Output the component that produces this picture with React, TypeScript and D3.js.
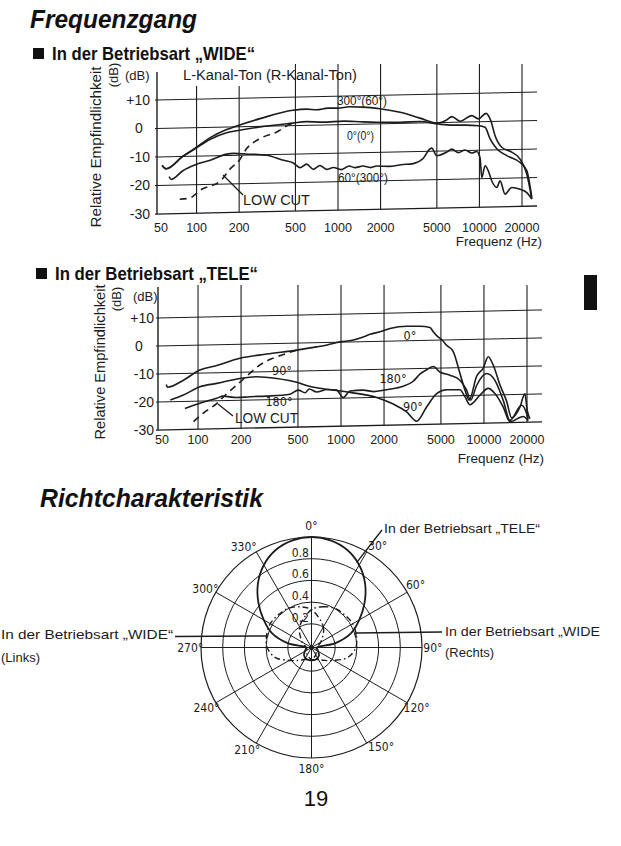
import React from 'react';
import * as d3 from 'd3';

type Pt = [number, number];

// ---------- axis ticks ----------
const FREQ_TICKS = [50, 100, 200, 500, 1000, 2000, 5000, 10000, 20000];
const FREQ_TICK_LABELS = ['50', '100', '200', '500', '1000', '2000', '5000', '10000', '20000'];
const DB_TICKS = [10, 0, -10, -20, -30];
const DB_TICK_LABELS = ['+10', '0', '-10', '-20', '-30'];

// ---------- WIDE mode (frequency Hz, relative dB) ----------
const wide300: Pt[] = [[57,-13],[61,-14.2],[80,-9.9],[97,-7.3],[125,-3.6],[163,-0.9],[192,0.3],[281,2.7],[479,5.4],[600,5.7],[707,5.4],[850,5.9],[1000,5.8],[1200,6.2],[1500,6.0],[1980,5.3],[2750,3.9],[3800,1.7],[5120,-0.2],[5880,0.9],[6380,2.0],[7300,0.3],[8830,2.2],[9830,1.0],[11140,2.9],[12030,0.3],[12900,-5.0],[14390,-9.1],[16470,-10.6],[19380,-13.4],[21620,-18.7],[23460,-27.5]];
const wide0: Pt[] = [[57,-13],[61,-14.2],[80,-10.0],[97,-7.5],[125,-4.2],[163,-2.0],[192,-1.4],[281,-0.2],[479,0.9],[600,1.3],[783,1.0],[1100,1.2],[1500,0.8],[1880,0.6],[2750,0.4],[3800,0.5],[5120,-0.5],[6380,-1.0],[8000,-1.1],[9830,-1.4],[10960,-2.0],[11890,-6.1],[13260,-9.6],[15610,-12.1],[19380,-14.6],[21620,-17.5],[23460,-27]];
const wide60: Pt[] = [[64,-17.0],[66,-18.0],[80,-15.0],[97,-13.1],[125,-11.5],[163,-9.5],[182,-9.3],[239,-9.7],[313,-10.2],[411,-12.1],[483,-13.1],[540,-14.8],[600,-13.6],[670,-15.5],[745,-14.2],[830,-15.6],[930,-15.0],[1050,-15.8],[1200,-14.6],[1320,-15.2],[1500,-14.7],[1700,-15.3],[1880,-14.8],[2300,-15.0],[2800,-14.5],[3400,-14.2],[4000,-12.5],[4480,-9.1],[4600,-8.9],[4990,-11.6],[5880,-10.4],[6380,-9.4],[7100,-10.7],[7900,-9.8],[8830,-10.9],[9570,-10.4],[10100,-12.6],[10390,-19.6],[10960,-15.5],[11570,-17.4],[12230,-20.9],[13260,-23.2],[14000,-20.9],[15180,-25.6],[16930,-23.3],[19380,-24],[21620,-25.2],[23460,-27.5]];
const wideLowCut: Pt[] = [[76,-25],[90,-24.6],[106,-22],[150,-18.5],[172,-14.8],[200,-11.8],[226,-7.7],[281,-4.3],[369,-2.1],[458,0.5],[500,0.9]];

// ---------- TELE mode ----------
const tele0: Pt[] = [[60,-13.8],[61,-14.8],[79,-12.4],[103,-8.9],[135,-7.4],[196,-5.0],[302,-3.7],[490,-2.5],[676,-1.5],[800,-0.9],[983,0.1],[1200,0.6],[1431,1.7],[1600,2.6],[1872,3.4],[2200,4.5],[2878,5.2],[3564,5.1],[4188,4.6],[4418,3.0],[4666,1.6],[5100,0],[5479,-1.9],[6094,-4.2],[6790,-12],[7358,-18],[7888,-21.6],[8884,-13.2],[9882,-10.3],[10710,-6.3],[11600,-9.3],[12930,-16.4],[14400,-22.3],[15610,-28.3],[17840,-24.6],[19330,-19.8],[20070,-25.8],[20960,-28.7]];
const tele90: Pt[] = [[64,-19.4],[79,-17.7],[103,-14.9],[135,-13.8],[196,-12.2],[257,-11.7],[355,-12.5],[490,-14.0],[600,-15.5],[752,-16.5],[1155,-18.0],[1775,-20.0],[2320,-22.5],[2878,-25.4],[3381,-28.8],[3971,-23.8],[4666,-19.1],[5479,-17.8],[6790,-17.9],[7358,-20.4],[7974,-23.3],[9370,-20.0],[10710,-17.6],[11930,-19.5],[13640,-24.4],[15190,-29.7],[18810,-27.9],[20390,-29.5]];
const tele180: Pt[] = [[81,-22.5],[103,-20.8],[135,-19.1],[150,-18.4],[186,-19.0],[231,-18.8],[302,-18.7],[440,-18.2],[502,-16.8],[560,-17.8],[600,-16.5],[676,-17.6],[800,-16.8],[932,-17.1],[1037,-19.8],[1155,-17.5],[1431,-17.3],[1700,-17.9],[1974,-17.5],[2450,-16.8],[2724,-16.2],[3201,-14.5],[3564,-12.0],[3971,-10.5],[4418,-9.4],[4920,-11.4],[5778,-12.6],[6790,-14.5],[7561,-18.1],[8065,-21.7],[8884,-16.5],[10440,-12.3],[11930,-14.8],[13640,-22],[15190,-29.2],[18330,-23.9],[19870,-26.9],[20390,-29]];
const teleLowCut: Pt[] = [[93,-27.3],[109,-24.3],[135,-21],[159,-17.5],[186,-14.6],[231,-10.4],[271,-7.5],[336,-5.2],[417,-3.6],[490,-2.5]];

// ---------- Polar (angle deg, relative level) ----------
const POLAR_SPOKES = [0, 30, 60, 90, 120, 150, 180, 210, 240, 270, 300, 330];
const POLAR_LABEL_NUDGE = [0, 3, -1, 0, 0, -5, 0, 2, 0, 0, -1, -4];
const POLAR_RINGS = [0.2, 0.4, 0.6, 0.8, 1.0];
const POLAR_RING_LABELS = ['0.2', '0.4', '0.6', '0.8'];
const teleAngles = [0,10,20,30,40,50,60,70,80,90,110,135,160,180,200,225,250,270,280,290,300,310,320,330,340,350];
const teleLevels = [1.0,0.985,0.94,0.86,0.75,0.62,0.49,0.37,0.2,0.03,0.04,0.08,0.1,0.1,0.1,0.08,0.04,0.03,0.2,0.37,0.49,0.62,0.75,0.86,0.94,0.985];
const wideLAngles = [0,30,60,90,120,150,180,210,225,240,255,270,285,300,315,330,345];
const wideLLevels = [0.33,0.2,0.08,0.03,0.03,0.06,0.09,0.11,0.15,0.22,0.33,0.39,0.41,0.42,0.41,0.4,0.37];
const wideRAngles = [0,15,30,45,60,75,90,105,120,135,150,180,210,240,270,300,330];
const wideRLevels = [0.33,0.37,0.4,0.41,0.42,0.41,0.39,0.33,0.22,0.15,0.11,0.09,0.06,0.03,0.03,0.08,0.2];

const SANS = "'Liberation Sans', Arial, Helvetica, sans-serif";
const NARROW = "'Liberation Sans Narrow', 'Arial Narrow', 'DejaVu Sans Condensed', 'Liberation Sans', sans-serif";
const INK = '#1c1c1c';
const SHEAR = 0.021;

interface ChartCfg {
  xl: number; xr: number; yt: number; yb: number; axisX: number; axisTop: number;
  gridTop: number; gridTopLow: number; gridRight: number; tickY: number;
  tickEndX: number; zeroX: number;
  freqX: number; freqY: number; ylabX: number; ylabCY: number; ylabLen: number;
  dbRotX: number; dbRotY: number; dbX: number; dbY: number;
}

const CFG_WIDE: ChartCfg = {
  xl: 154, xr: 522, yt: 100, yb: 214, axisX: 157, axisTop: 72, gridTop: 64, gridTopLow: 86,
  gridRight: 537, tickY: 231.5, tickEndX: 150, zeroX: 139, freqX: 542, freqY: 246,
  ylabX: 101, ylabCY: 147, ylabLen: 161, dbRotX: 118, dbRotY: 75, dbX: 125, dbY: 80,
};
const CFG_TELE: ChartCfg = {
  xl: 155, xr: 527, yt: 318, yb: 430, axisX: 158, axisTop: 287, gridTop: 285, gridTopLow: 285,
  gridRight: 542, tickY: 443.5, tickEndX: 154, zeroX: 139, freqX: 544, freqY: 463,
  ylabX: 105, ylabCY: 362, ylabLen: 155, dbRotX: 121, dbRotY: 299, dbX: 133, dbY: 301,
};

function FreqChart({ cfg, series }: { cfg: ChartCfg; series: { data: Pt[]; dash?: string }[] }) {
  const xs = d3.scaleLog().domain([50, 20000]).range([cfg.xl, cfg.xr]);
  const ys = d3.scaleLinear().domain([-30, 10]).range([cfg.yb, cfg.yt]);
  const Yx = (x: number, v: number) => ys(v) - SHEAR * (x - cfg.axisX);
  const line = d3.line<Pt>().x(d => xs(d[0])).y(d => Yx(xs(d[0]), d[1])).curve(d3.curveMonotoneX);
  return (
    <g>
      <line x1={cfg.axisX} x2={cfg.axisX} y1={cfg.axisTop} y2={ys(-30)} stroke={INK} strokeWidth={1.4} />
      {DB_TICKS.map(v => (
        <line key={'h' + v} x1={cfg.axisX - 2} y1={Yx(cfg.axisX - 2, v)} x2={cfg.gridRight} y2={Yx(cfg.gridRight, v)}
          stroke={INK} strokeWidth={v === -30 ? 1.3 : 1} />
      ))}
      {FREQ_TICKS.slice(1).map(f => (
        <line key={'v' + f} x1={xs(f)} x2={xs(f)} y1={f <= 200 ? cfg.gridTopLow : cfg.gridTop} y2={Yx(xs(f), -30)}
          stroke={INK} strokeWidth={1.1} />
      ))}
      {series.map((s, i) => (
        <path key={i} d={line(s.data) || ''} fill="none" stroke={INK} strokeWidth={1.6}
          strokeDasharray={s.dash} strokeLinejoin="round" />
      ))}
      <g fontFamily={SANS} fontSize={12.5} fill={INK}>
        {FREQ_TICKS.map((f, i) => (
          <text key={'xt' + f} x={xs(f) + (i === 0 ? 7 : 0)} y={cfg.tickY} textAnchor="middle">{FREQ_TICK_LABELS[i]}</text>
        ))}
        {DB_TICKS.map((v, i) => (
          <text key={'yt' + v} x={v === 0 ? cfg.zeroX : cfg.tickEndX} y={ys(v) + 4.5}
            textAnchor={v === 0 ? 'middle' : 'end'} fontSize={14}>{DB_TICK_LABELS[i]}</text>
        ))}
        <text x={cfg.freqX} y={cfg.freqY} textAnchor="end" fontSize={13.5}>Frequenz (Hz)</text>
        <text x={cfg.dbX} y={cfg.dbY} fontSize={13}>(dB)</text>
        <text transform={`translate(${cfg.ylabX},${cfg.ylabCY}) rotate(-90)`} textAnchor="middle" fontSize={14}
          textLength={cfg.ylabLen} lengthAdjust="spacingAndGlyphs">Relative Empfindlichkeit</text>
        <text transform={`translate(${cfg.dbRotX},${cfg.dbRotY}) rotate(-90)`} textAnchor="middle" fontSize={13}>(dB)</text>
      </g>
    </g>
  );
}

function Polar() {
  const cx = 311.5, cy = 647.5;
  const rS = d3.scaleLinear().domain([0, 1]).range([2, 110.5]);
  const rad = (a: number) => (a * Math.PI) / 180;
  const radial = d3.lineRadial<Pt>().angle(d => rad(d[0])).radius(d => rS(d[1])).curve(d3.curveCatmullRomClosed.alpha(0.5));
  const tele = teleAngles.map((a, i) => [a, teleLevels[i]] as Pt);
  const wl = wideLAngles.map((a, i) => [a, wideLLevels[i]] as Pt);
  const wr = wideRAngles.map((a, i) => [a, wideRLevels[i]] as Pt);
  const pt = (a: number, v: number): Pt => [cx + rS(v) * Math.sin(rad(a)), cy - rS(v) * Math.cos(rad(a))];
  const teleAnchor = pt(28, 0.87);
  const wrEdge = pt(90, wideRLevels[6]);
  const wlEdge = pt(270, wideLLevels[11]);
  return (
    <g>
      {POLAR_RINGS.map(v => (
        <circle key={v} cx={cx} cy={cy} r={rS(v)} fill="none" stroke={INK} strokeWidth={v === 1 ? 1.2 : 1} />
      ))}
      {POLAR_SPOKES.map(a => {
        const [x2, y2] = pt(a, 1);
        return <line key={a} x1={cx} y1={cy} x2={x2} y2={y2} stroke={INK} strokeWidth={1} />;
      })}
      <g transform={`translate(${cx},${cy})`}>
        <path d={radial(tele) || ''} fill="none" stroke={INK} strokeWidth={1.8} />
        <path d={radial(wl) || ''} fill="none" stroke={INK} strokeWidth={1.4} strokeDasharray="6 3 1.5 3" />
        <path d={radial(wr) || ''} fill="none" stroke={INK} strokeWidth={1.4} strokeDasharray="6 3 1.5 3" />
      </g>
      <circle cx={cx} cy={cy} r={2.2} fill={INK} />
      <g fontFamily={NARROW} fontSize={12} fill={INK}>
        {POLAR_SPOKES.map((a, i) => {
          const [x, y] = pt(a + POLAR_LABEL_NUDGE[i], 1.1);
          return <text key={a} x={x} y={y + 4} textAnchor="middle">{`${a}°`}</text>;
        })}
        {POLAR_RING_LABELS.map((l, i) => (
          <text key={l} x={cx - 2.5} y={cy - rS(POLAR_RINGS[i]) - 2} textAnchor="end">{l}</text>
        ))}
      </g>
      {/* leaders */}
      <polyline points={`${teleAnchor[0]},${teleAnchor[1]} 382,530`} fill="none" stroke={INK} strokeWidth={1.4} />
      <polyline points={`${wrEdge[0]},${cy - 11} ${wrEdge[0]},${cy - 14.5} 442,${cy - 15.5}`} fill="none" stroke={INK} strokeWidth={1.4} />
      <polyline points={`${wlEdge[0]},${cy - 13} ${wlEdge[0]},${cy - 11.5} 175,${cy - 11}`} fill="none" stroke={INK} strokeWidth={1.4} />
      <g fontFamily={SANS} fontSize={13} fill={INK}>
        <text x={384} y={533} textLength={156} lengthAdjust="spacingAndGlyphs">In der Betriebsart „TELE“</text>
        <text x={445} y={636} textLength={155} lengthAdjust="spacingAndGlyphs">In der Betriebsart „WIDE</text>
        <text x={445} y={657}>(Rechts)</text>
        <text x={1} y={639} textLength={172} lengthAdjust="spacingAndGlyphs">In der Betriebsart „WIDE“</text>
        <text x={1} y={662}>(Links)</text>
      </g>
    </g>
  );
}

export default function App() {
  return (
    <svg width={621} height={846} viewBox="0 0 621 846"
      style={{ position: 'absolute', left: 0, top: 0, background: '#fff' }}>
      <rect x={0} y={0} width={621} height={846} fill="#fff" />
      <g fill="#111" fontFamily={SANS}>
        <text x={30} y={28} fontSize={25} fontWeight="bold" fontStyle="italic" textLength={167} lengthAdjust="spacingAndGlyphs">Frequenzgang</text>
        <rect x={33} y={48} width={11} height={11} />
        <text x={52} y={59.5} fontSize={19} fontWeight="bold" textLength={203} lengthAdjust="spacingAndGlyphs">In der Betriebsart „WIDE“</text>
        <rect x={36} y={268} width={11} height={11} />
        <text x={55} y={280} fontSize={19} fontWeight="bold" textLength={203} lengthAdjust="spacingAndGlyphs">In der Betriebsart „TELE“</text>
        <text x={40} y={507} fontSize={25} fontWeight="bold" fontStyle="italic" textLength={223} lengthAdjust="spacingAndGlyphs">Richtcharakteristik</text>
        <text x={316} y={806} fontSize={22} textAnchor="middle">19</text>
        <rect x={584} y={275} width={13} height={35} />
      </g>

      <FreqChart cfg={CFG_WIDE} series={[{ data: wide300 }, { data: wide0 }, { data: wide60 }, { data: wideLowCut, dash: '7 5' }]} />
      <g fontFamily={SANS} fill={INK}>
        <text x={183} y={80} fontSize={14} textLength={174} lengthAdjust="spacingAndGlyphs">L-Kanal-Ton (R-Kanal-Ton)</text>
        <text x={337} y={104.5} fontSize={13} textLength={50} lengthAdjust="spacingAndGlyphs">300°(60°)</text>
        <text x={347} y={139.5} fontSize={13} textLength={27} lengthAdjust="spacingAndGlyphs">0°(0°)</text>
        <text x={338} y={181.5} fontSize={13} textLength={50} lengthAdjust="spacingAndGlyphs">60°(300°)</text>
        <text x={243} y={204.5} fontSize={15} textLength={67} lengthAdjust="spacingAndGlyphs">LOW CUT</text>
        <line x1={223} y1={175} x2={243} y2={195} stroke={INK} strokeWidth={1.3} />
      </g>

      <FreqChart cfg={CFG_TELE} series={[{ data: tele0 }, { data: tele90 }, { data: tele180 }, { data: teleLowCut, dash: '7 5' }]} />
      <g fontFamily={NARROW} fill={INK} fontSize={12.5}>
        <text x={410} y={340} textAnchor="middle">0°</text>
        <text x={282} y={374.5} textAnchor="middle">90°</text>
        <text x={279} y={406} textAnchor="middle">180°</text>
        <text x={393} y={383} textAnchor="middle">180°</text>
        <text x={413} y={411} textAnchor="middle">90°</text>
        <text x={235} y={423} fontFamily={SANS} fontSize={14} textLength={63} lengthAdjust="spacingAndGlyphs">LOW CUT</text>
        <line x1={218} y1={404} x2={233} y2={416} stroke={INK} strokeWidth={1.3} />
      </g>

      <Polar />
    </svg>
  );
}
